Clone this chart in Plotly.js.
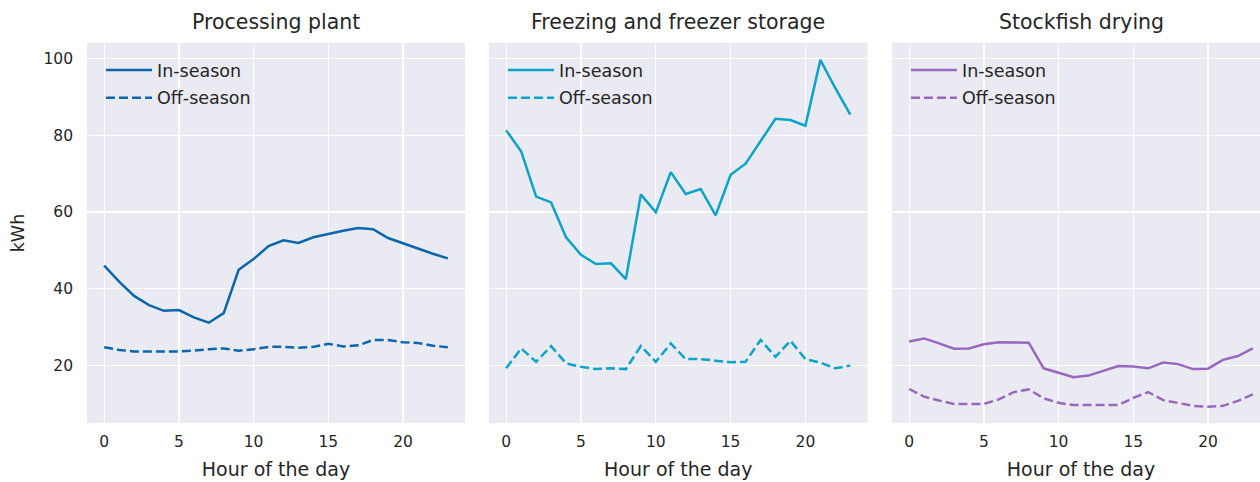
<!DOCTYPE html>
<html>
<head>
<meta charset="utf-8">
<script src="https://cdn.plot.ly/plotly-3.0.1.min.js"></script>
<style>
html, body { margin: 0; padding: 0; overflow: hidden; background: #fff; }
#chart { width: 1270px; height: 482px; }
</style>
</head>
<body>
<div id="chart"></div>
<script>
// ---- data ----
const hours = [0,1,2,3,4,5,6,7,8,9,10,11,12,13,14,15,16,17,18,19,20,21,22,23];
const panelTitles = ["Processing plant", "Freezing and freezer storage", "Stockfish drying"];
const seriesNames = ["In-season", "Off-season"];

const processingIn  = [46.0,41.8,38.1,35.7,34.2,34.4,32.5,31.1,33.6,44.9,47.7,51.1,52.6,51.9,53.4,54.3,55.1,55.8,55.5,53.2,51.8,50.5,49.1,47.9];
const processingOff = [24.7,24.0,23.6,23.6,23.6,23.6,23.8,24.2,24.4,23.8,24.2,24.8,24.8,24.6,24.8,25.6,24.9,25.2,26.6,26.6,26.0,25.8,25.1,24.7];

const freezingIn  = [81.3,75.8,64.0,62.5,53.4,48.8,46.4,46.6,42.5,64.6,59.9,70.4,64.7,66.0,59.1,69.7,72.6,78.6,84.3,84.0,82.5,99.7,92.3,85.4];
const freezingOff = [19.2,24.4,20.9,25.0,20.5,19.6,19.0,19.2,19.0,25.0,20.9,25.7,21.6,21.6,21.2,20.8,20.9,26.6,22.2,26.4,21.6,20.7,19.2,19.9];

const stockfishIn  = [26.2,27.0,25.7,24.3,24.4,25.5,26.0,25.9,25.9,19.2,18.1,16.9,17.3,18.5,19.8,19.7,19.2,20.7,20.3,19.0,19.1,21.4,22.4,24.4];
const stockfishOff = [13.8,11.8,10.8,9.9,9.9,9.9,11.1,13.0,13.7,11.4,10.2,9.6,9.6,9.6,9.6,11.5,13.0,10.9,10.2,9.4,9.2,9.4,10.7,12.4];

const xTicks = [0,5,10,15,20];
const yTicks = [20,40,60,80,100];

// ---- styling ----
const colors = ["#0a66ad", "#0ba3c9", "#9a67bf"];
const panelData = [
  [processingIn, processingOff],
  [freezingIn, freezingOff],
  [stockfishIn, stockfishOff]
];
const FONT = "DejaVu Sans, Liberation Sans, Arial, sans-serif";
const TXT = "#262626";

const W = 1270, H = 482;
const M = {l: 87, r: 0, t: 43, b: 59};
const PW = W - M.l - M.r, PH = H - M.t - M.b;
// panel pixel extents (left, right)
const panelPx = [[87, 465], [489, 867.5], [892, 1270]];
const px2x = p => (p - M.l) / PW;
const px2y = p => 1 - (p - M.t) / PH;

const traces = [];
panelData.forEach((pair, i) => {
  const ax = i === 0 ? "" : String(i + 1);
  pair.forEach((vals, j) => {
    traces.push({
      type: "scatter", mode: "lines",
      x: hours, y: vals,
      name: seriesNames[j],
      xaxis: "x" + ax, yaxis: "y" + ax,
      legend: i === 0 ? "legend" : "legend" + (i + 1),
      legendgroup: "g" + i + j,
      line: {color: colors[i], width: 2.5, dash: j === 0 ? "solid" : "9px,4px"},
      hoverinfo: "x+y"
    });
  });
});

const layout = {
  width: W, height: H,
  margin: M,
  paper_bgcolor: "#ffffff",
  plot_bgcolor: "#eaeaf2",
  font: {family: FONT, color: TXT, size: 15.5},
  showlegend: true,
  annotations: []
};

panelPx.forEach((p, i) => {
  const ax = i === 0 ? "" : String(i + 1);
  layout["xaxis" + ax] = {
    domain: [px2x(p[0]), Math.min(1, px2x(p[1]))],
    range: [-1.15, 24.15],
    tickvals: xTicks,
    ticktext: xTicks.map(String),
    showgrid: true, gridcolor: "#ffffff", gridwidth: 1.3,
    zeroline: false, showline: false, ticks: "",
    ticklabelstandoff: 7,
    tickfont: {family: FONT, size: 15.5, color: TXT},
    title: {text: "Hour of the day", font: {family: FONT, size: 19, color: TXT}, standoff: 13},
    anchor: "y" + ax, fixedrange: true
  };
  layout["yaxis" + ax] = {
    domain: [0, 1],
    range: [4.93, 104.1],
    tickvals: yTicks,
    ticktext: yTicks.map(String),
    showticklabels: i === 0,
    showgrid: true, gridcolor: "#ffffff", gridwidth: 1.3,
    zeroline: false, showline: false, ticks: "",
    ticklabelstandoff: 13,
    tickfont: {family: FONT, size: 15.5, color: TXT},
    title: i === 0 ? {text: "kWh", font: {family: FONT, size: 17.5, color: TXT}, standoff: 14} : {text: ""},
    anchor: "x" + ax, fixedrange: true
  };
  const lg = {
    x: px2x(p[0] + 14), y: px2y(52),
    xanchor: "left", yanchor: "top",
    bgcolor: "rgba(0,0,0,0)", borderwidth: 0,
    font: {family: FONT, size: 17.5, color: TXT},
    traceorder: "grouped", tracegroupgap: 2,
    itemwidth: 46
  };
  layout[i === 0 ? "legend" : "legend" + (i + 1)] = lg;
  layout.annotations.push({
    text: panelTitles[i],
    xref: "paper", yref: "paper",
    x: (px2x(p[0]) + px2x(p[1])) / 2, y: px2y(22),
    xanchor: "center", yanchor: "middle",
    showarrow: false,
    font: {family: FONT, size: 20.5, color: TXT}
  });
});

Plotly.newPlot("chart", traces, layout, {displayModeBar: false, staticPlot: true});
</script>
</body>
</html>
